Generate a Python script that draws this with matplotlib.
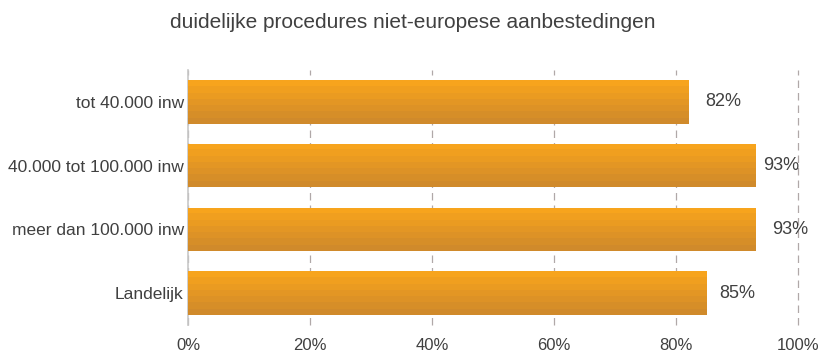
import matplotlib.pyplot as plt
import numpy as np
from matplotlib.colors import LinearSegmentedColormap

plt.rcParams['font.family'] = ['Liberation Sans', 'DejaVu Sans']

categories = ["tot 40.000 inw", "40.000 tot 100.000 inw", "meer dan 100.000 inw", "Landelijk"]
values = [82, 93, 93, 85]
labels = ["82%", "93%", "93%", "85%"]
label_pad = [12, 6, 12, 9]
xticks = [0, 20, 40, 60, 80, 100]

fig = plt.figure(figsize=(8.23, 3.52), dpi=100)
ax = fig.add_axes([0.2284, 0.0767, 0.7412, 0.7244])

y = np.arange(len(categories))
bars = ax.barh(y, values, height=0.68, color="none", edgecolor="none", zorder=3)

# striped orange gradient, light at top, dark at bottom
cmap = LinearSegmentedColormap.from_list("org", ["#f7a41d", "#d08a2b"])
grad = np.linspace(0, 1, 7).reshape(-1, 1)
for b in bars:
    x0, y0 = b.get_x(), b.get_y()
    w, h = b.get_width(), b.get_height()
    im = ax.imshow(grad, cmap=cmap, aspect="auto", extent=[x0, x0 + w, y0 + h, y0],
                   origin="upper", interpolation="nearest", zorder=3)
    im.set_clip_path(b)

for i, v in enumerate(values):
    ax.annotate(labels[i], (v, i), xytext=(label_pad[i], 0), textcoords="offset points",
                va="center", ha="left", fontsize=13, color="#404040", zorder=4)

ax.set_xlim(0, 100)
ax.set_ylim(len(categories) - 0.5, -0.5)
ax.set_yticks(y)
ax.set_yticklabels(categories, fontsize=12.5, color="#404040")
ax.set_xticks(xticks)
ax.set_xticklabels([f"{t}%" for t in xticks], fontsize=12, color="#404040")
ax.tick_params(length=0, pad=3)
ax.tick_params(axis="x", pad=9)
ax.set_axisbelow(True)
ax.xaxis.grid(True, linestyle=(0, (6, 4)), color="#b0a8a8", linewidth=0.9)
for gl in ax.get_xgridlines():
    gl.set_clip_on(False)
for s in ["top", "right", "bottom"]:
    ax.spines[s].set_visible(False)
ax.spines["left"].set_color("#c8c8c8")
ax.spines["left"].set_linewidth(1.2)

fig.text(0.502, 0.937, "duidelijke procedures niet-europese aanbestedingen",
         ha="center", va="center", fontsize=15, color="#404040")

fig.savefig("out.png", dpi=100)
